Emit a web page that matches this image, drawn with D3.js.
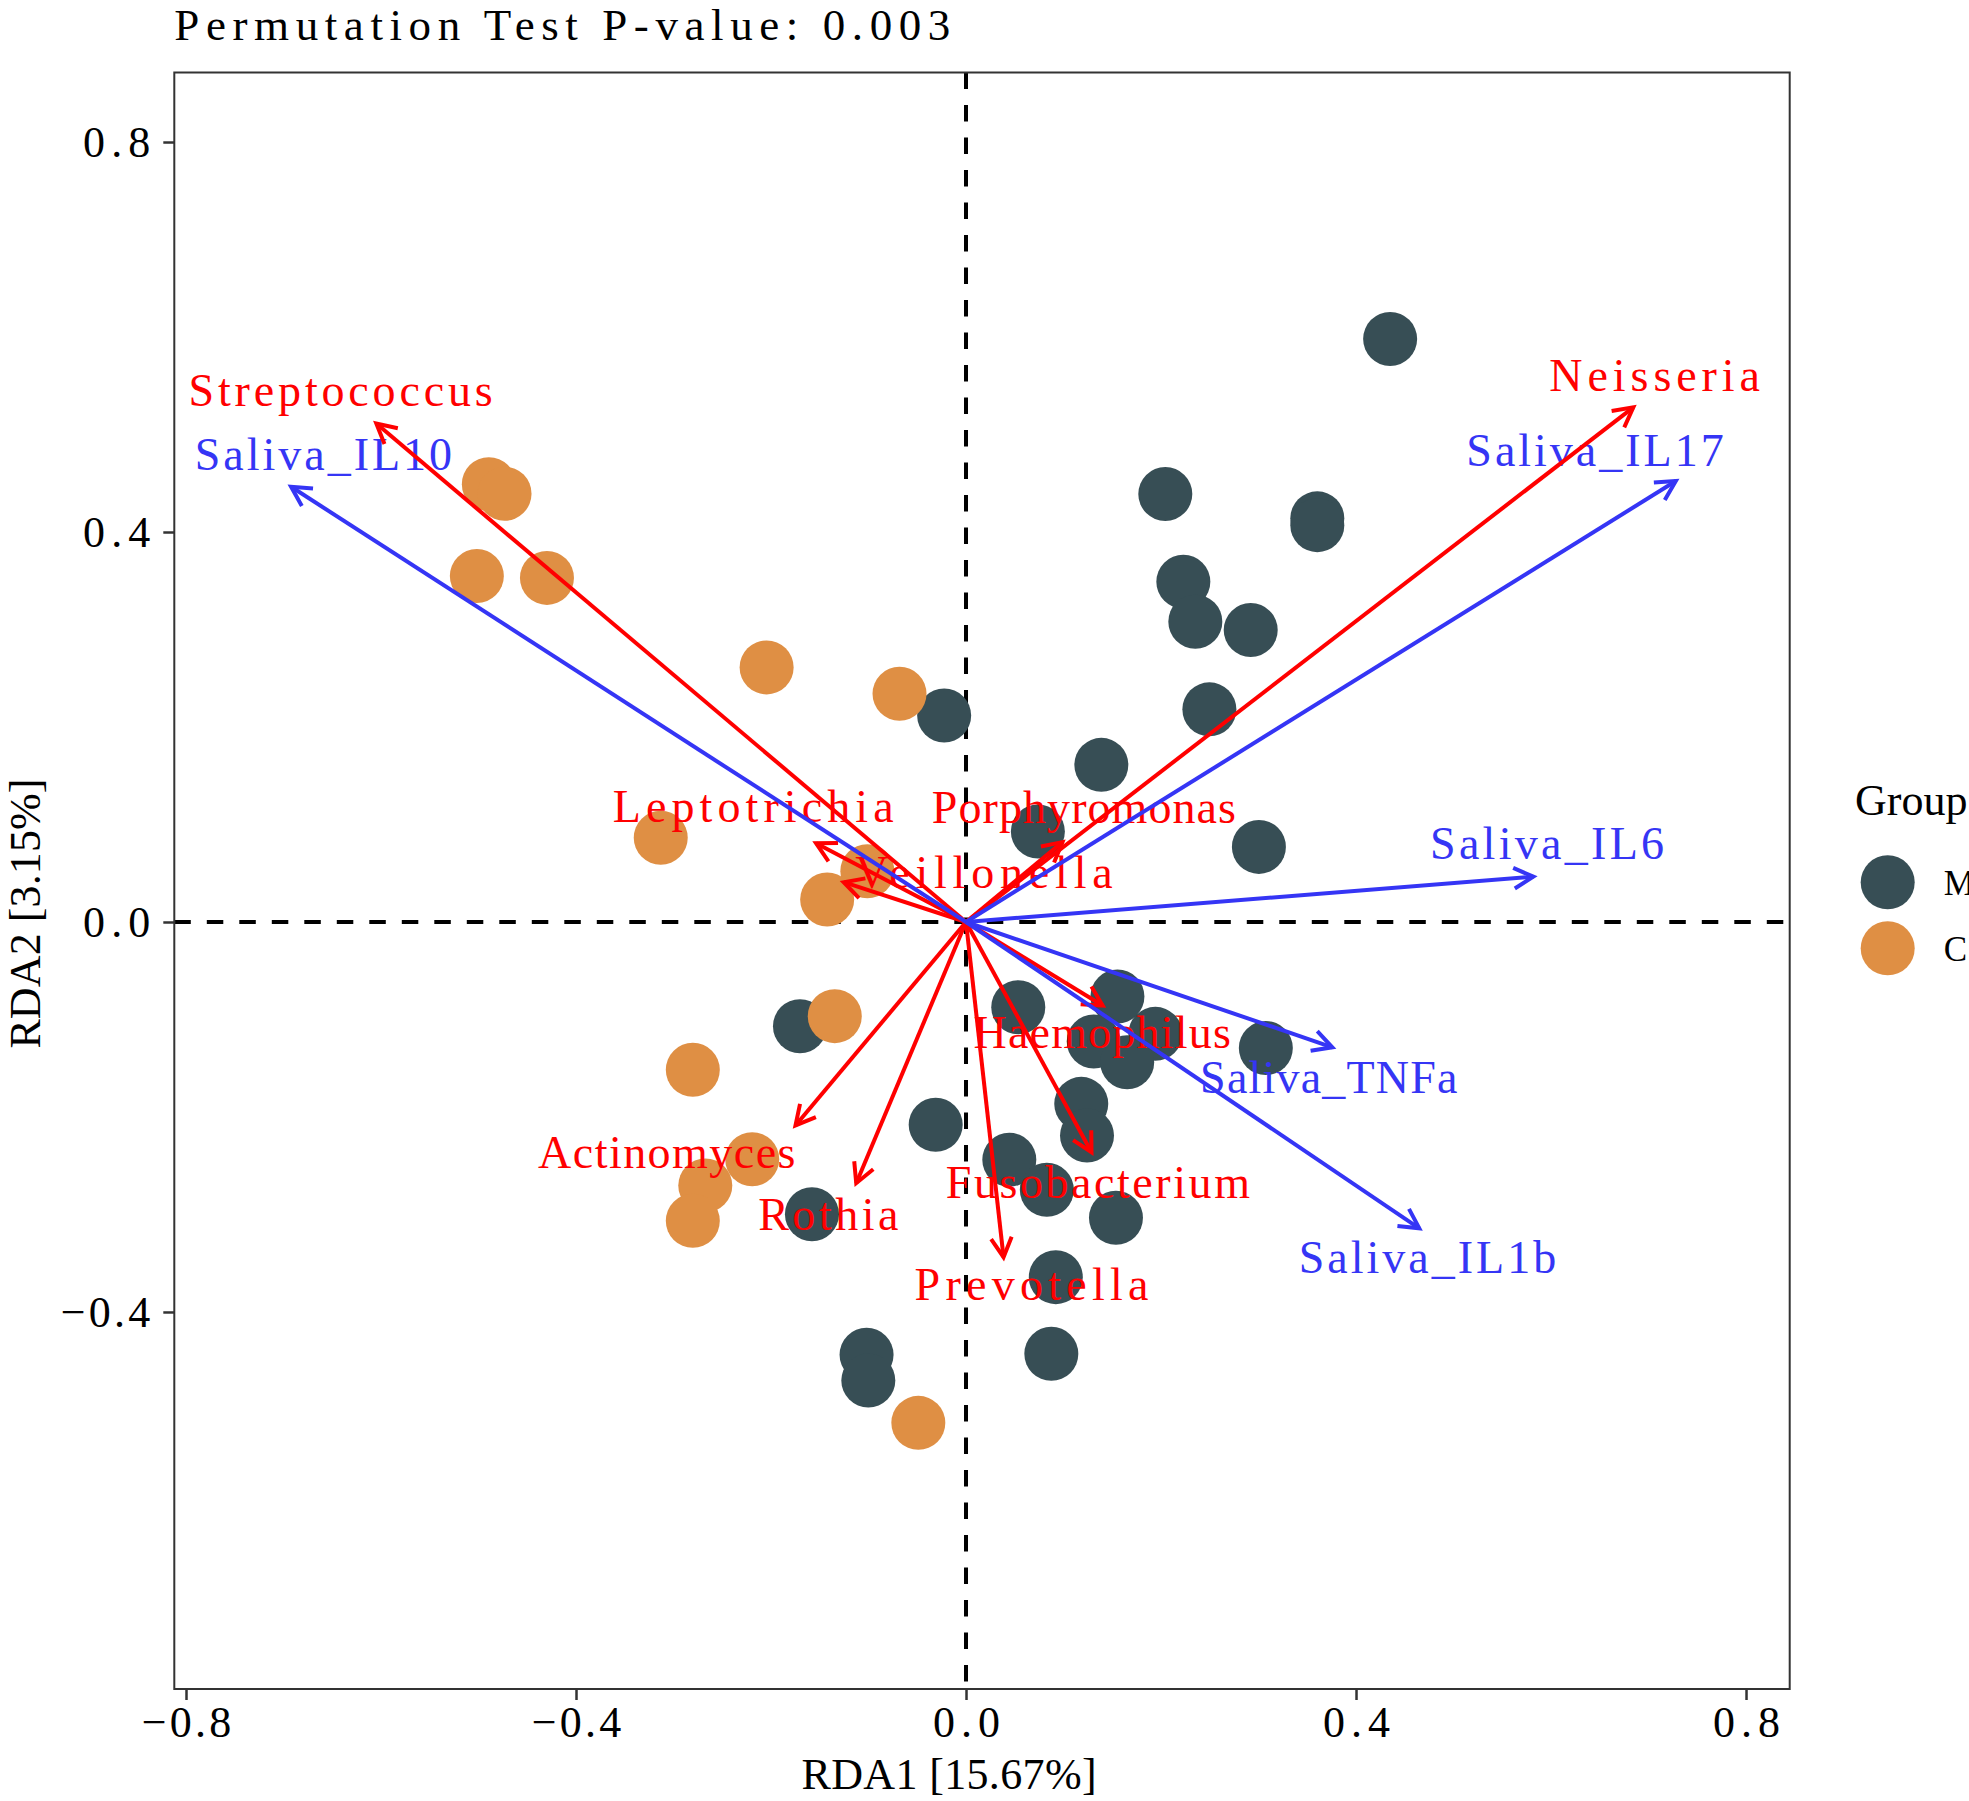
<!DOCTYPE html>
<html>
<head>
<meta charset="utf-8">
<script src="https://cdn.jsdelivr.net/npm/d3@7"></script>
<style>
  body { margin: 0; background: #fff; }
  svg text { font-family: "Liberation Serif", "DejaVu Serif", serif; }
</style>
</head>
<body>
<script>
var width = 1969, height = 1801;

// sample scores, group M
var mRDA1 = [0.435, 0.2044, 0.3603, 0.3603, 0.2229, 0.2352, 0.292, 0.2496, -0.0224, 0.1388,
             0.0737, 0.3004, 0.1553, 0.0536, 0.1942, 0.131, 0.1653, 0.3075, -0.1703, 0.1182,
             0.1241, -0.0311, 0.0444, 0.0829, 0.1538, -0.158, 0.0921, 0.0875, -0.102, -0.1002];
var mRDA2 = [0.598, 0.439, 0.414, 0.407, 0.349, 0.308, 0.2995, 0.2181, 0.2118, 0.1612,
             0.0928, 0.0770, -0.0764, -0.0874, -0.1147, -0.1226, -0.1438, -0.1293, -0.1069, -0.1865,
             -0.219, -0.208, -0.2439, -0.2747, -0.3034, -0.2997, -0.3643, -0.4429, -0.4439, -0.4703];

// sample scores, group C
var cRDA1 = [-0.4894, -0.4733, -0.5017, -0.4298, -0.2045, -0.0682, -0.3131, -0.1012, -0.1424, -0.1346,
             -0.2802, -0.2193, -0.2674, -0.2802, -0.0489];
var cRDA2 = [0.4491, 0.4393, 0.3549, 0.3529, 0.2611, 0.2341, 0.0864, 0.0521, 0.0231, -0.0966,
             -0.1516, -0.2433, -0.2703, -0.3065, -0.5137];

var groupNames = ["M", "C"];
var groupColors = ["#374E55", "#DF8F44"];

// genus arrows (red)
var speciesNames = ["Streptococcus", "Neisseria", "Leptotrichia", "Porphyromonas", "Veillonella",
                    "Haemophilus", "Fusobacterium", "Prevotella", "Rothia", "Actinomyces"];
var speciesRDA1 = [-0.6048, 0.6844, -0.1538, 0.0989, -0.1254, 0.1401, 0.1287, 0.0385, -0.1126, -0.1749];
var speciesRDA2 = [0.5112, 0.5279, 0.0808, 0.0819, 0.0408, -0.0856, -0.2361, -0.3438, -0.2679, -0.2087];
var speciesLabelRDA1 = [-0.6414, 0.7063, -0.2183, 0.1209, 0.0184, 0.1397, 0.1352, 0.0672, -0.1412, -0.3069];
var speciesLabelRDA2 = [0.5295, 0.5449, 0.1029, 0.1019, 0.0352, -0.1296, -0.2834, -0.3877, -0.3159, -0.252];

// environment arrows (blue)
var envNames = ["Saliva_IL10", "Saliva_IL17", "Saliva_IL6", "Saliva_TNFa", "Saliva_IL1b"];
var envRDA1 = [-0.6922, 0.728, 0.5819, 0.3757, 0.4649];
var envRDA2 = [0.4464, 0.4523, 0.0465, -0.1285, -0.3142];
var envLabelRDA1 = [-0.6591, 0.6451, 0.5959, 0.3721, 0.4733];
var envLabelRDA2 = [0.4636, 0.468, 0.0643, -0.1757, -0.3603];

var xTicks = [-0.8, -0.4, 0, 0.4, 0.8];
var yTicks = [-0.4, 0, 0.4, 0.8];

var titleText = "Permutation Test P-value: 0.003";
var xTitle = "RDA1 [15.67%]";
var yTitle = "RDA2 [3.15%]";
var legendTitle = "Group";

var panel = {left: 174.3, right: 1789.7, top: 72.5, bottom: 1689};

var x = d3.scaleLinear().domain([-0.812, 0.8448]).range([panel.left, panel.right]);
var y = d3.scaleLinear().domain([-0.7867, 0.8713]).range([panel.bottom, panel.top]);

var svg = d3.select("body").append("svg")
    .attr("width", width)
    .attr("height", height);

// monospace-like spread of the text, like the original font
function spread(sel, charW) {
    sel.attr("textLength", function() { return this.textContent.length * charW; })
       .attr("lengthAdjust", "spacing");
}

svg.append("clipPath").attr("id", "clip")
    .append("rect")
    .attr("x", panel.left).attr("y", panel.top)
    .attr("width", panel.right - panel.left)
    .attr("height", panel.bottom - panel.top);

var plot = svg.append("g").attr("clip-path", "url(#clip)");

// zero lines
plot.append("line")
    .attr("x1", panel.left).attr("x2", panel.right)
    .attr("y1", y(0)).attr("y2", y(0))
    .attr("stroke", "#000").attr("stroke-width", 4)
    .attr("stroke-dasharray", "16.5,16");
plot.append("line")
    .attr("x1", x(0)).attr("x2", x(0))
    .attr("y1", panel.top).attr("y2", panel.bottom)
    .attr("stroke", "#000").attr("stroke-width", 4)
    .attr("stroke-dasharray", "16.5,16");

// points
var samples = [];
mRDA1.forEach((v, i) => samples.push({x: v, y: mRDA2[i], g: 0}));
cRDA1.forEach((v, i) => samples.push({x: v, y: cRDA2[i], g: 1}));

plot.append("g").selectAll("circle")
    .data(samples)
    .enter().append("circle")
    .attr("cx", d => x(d.x))
    .attr("cy", d => y(d.y))
    .attr("r", 27)
    .attr("fill", d => groupColors[d.g]);

var species = speciesNames.map((n, i) => ({name: n, x: speciesRDA1[i], y: speciesRDA2[i],
    lx: speciesLabelRDA1[i], ly: speciesLabelRDA2[i], color: "#FF0000"}));
var envs = envNames.map((n, i) => ({name: n, x: envRDA1[i], y: envRDA2[i],
    lx: envLabelRDA1[i], ly: envLabelRDA2[i], color: "#3535F5"}));
var vectors = species.concat(envs);

// labels
plot.append("g").selectAll("text")
    .data(vectors)
    .enter().append("text")
    .attr("x", d => x(d.lx))
    .attr("y", d => y(d.ly))
    .attr("text-anchor", "middle")
    .attr("fill", d => d.color)
    .style("font-size", "46px")
    .text(d => d.name)
    .call(spread, 23.4);

// arrows
function arrowHead(d) {
    var tx = x(d.x), ty = y(d.y);
    var ang = Math.atan2(ty - y(0), tx - x(0));
    var len = 22, a = 28 * Math.PI / 180;
    var p1 = [tx - len * Math.cos(ang - a), ty - len * Math.sin(ang - a)];
    var p2 = [tx - len * Math.cos(ang + a), ty - len * Math.sin(ang + a)];
    return "M" + p1 + "L" + tx + "," + ty + "L" + p2;
}

var arrows = plot.append("g").selectAll("g")
    .data(vectors)
    .enter().append("g");

arrows.append("line")
    .attr("x1", x(0)).attr("y1", y(0))
    .attr("x2", d => x(d.x)).attr("y2", d => y(d.y))
    .attr("stroke", d => d.color)
    .attr("stroke-width", 4);

arrows.append("path")
    .attr("d", arrowHead)
    .attr("fill", "none")
    .attr("stroke", d => d.color)
    .attr("stroke-width", 4);

// axes
var xAxis = svg.append("g")
    .attr("transform", "translate(0," + panel.bottom + ")")
    .call(d3.axisBottom(x).tickValues(xTicks).tickSize(11).tickPadding(6)
        .tickFormat(d3.format(".1f")));
var yAxis = svg.append("g")
    .attr("transform", "translate(" + panel.left + ",0)")
    .call(d3.axisLeft(y).tickValues(yTicks).tickSize(11).tickPadding(13)
        .tickFormat(d3.format(".1f")));

[xAxis, yAxis].forEach(function(ax) {
    ax.select(".domain").remove();
    ax.selectAll(".tick line").attr("stroke", "#333").attr("stroke-width", 2.5);
    ax.selectAll(".tick text")
        .attr("fill", "#000")
        .style("font-size", "44px")
        .call(spread, 22.4);
});

// panel border
svg.append("rect")
    .attr("x", panel.left).attr("y", panel.top)
    .attr("width", panel.right - panel.left)
    .attr("height", panel.bottom - panel.top)
    .attr("fill", "none")
    .attr("stroke", "#333")
    .attr("stroke-width", 2);

// titles
svg.append("text")
    .attr("x", panel.left).attr("y", 40)
    .style("font-size", "45px")
    .text(titleText)
    .attr("textLength", 776).attr("lengthAdjust", "spacing");

svg.append("text")
    .attr("x", 949).attr("y", 1789)
    .attr("text-anchor", "middle")
    .style("font-size", "44px")
    .text(xTitle)
    .call(spread, 22.7);

svg.append("text")
    .attr("transform", "translate(40,913.6) rotate(-90)")
    .attr("text-anchor", "middle")
    .style("font-size", "44px")
    .text(yTitle)
    .call(spread, 22.5);

// legend
var legend = svg.append("g");
legend.append("text")
    .attr("x", 1855).attr("y", 815)
    .style("font-size", "44px")
    .text(legendTitle)
    .call(spread, 22.5);

var keys = legend.selectAll("g.key")
    .data(groupNames)
    .enter().append("g")
    .attr("class", "key")
    .attr("transform", (d, i) => "translate(1887.7," + (882.3 + i * 66) + ")");
keys.append("circle")
    .attr("r", 27)
    .attr("fill", (d, i) => groupColors[i]);
keys.append("text")
    .attr("x", 56).attr("y", 12.5)
    .style("font-size", "35px")
    .text(d => d);
</script>
</body>
</html>
